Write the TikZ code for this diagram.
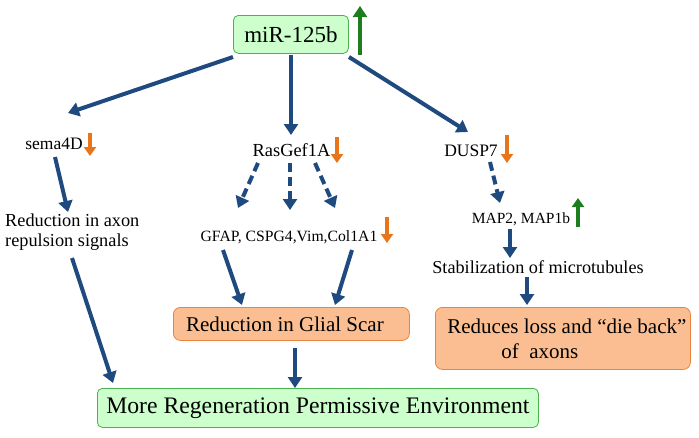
\documentclass[tikz,border=0pt]{standalone}
\usepackage{fontspec}
\setmainfont{Liberation Serif}
\usetikzlibrary{arrows.meta}
\definecolor{arrblue}{HTML}{1F4A80}
\definecolor{orarr}{HTML}{E8751A}
\definecolor{grarr}{HTML}{1E7E1E}
\definecolor{gfill}{HTML}{CCFFCC}
\definecolor{gdraw}{HTML}{4CAF50}
\definecolor{ofill}{HTML}{FBBE92}
\definecolor{odraw}{HTML}{E8843E}
\begin{document}
\begin{tikzpicture}[x=1pt,y=-1pt,
  flow/.style={draw=arrblue,line width=4pt,-{Triangle[length=11pt,width=14pt]}},
  dflow/.style={flow,dash pattern=on 9pt off 5pt},
  dnarr/.style={draw=orarr,line width=3.5pt,-{Triangle[length=9pt,width=12pt]}},
  uparr/.style={draw=grarr,line width=3.5pt,-{Triangle[length=9pt,width=12pt]}},
  gbox/.style={draw=gdraw,fill=gfill,rounded corners=5pt,line width=0.8pt,inner sep=0pt},
  obox/.style={draw=odraw,fill=ofill,rounded corners=7pt,line width=0.8pt,inner sep=0pt},
  lbl/.style={inner sep=0pt,font=\rmfamily\fontsize{17.5}{20}\selectfont}]
\useasboundingbox (0,0) rectangle (699,437);
% boxes
\node[gbox,minimum width=115pt,minimum height=38pt,anchor=north west,font=\rmfamily\fontsize{23}{27}\selectfont] (mir) at (233,15) {miR-125b};
\node[obox,minimum width=236pt,minimum height=33pt,anchor=north west,font=\rmfamily\fontsize{21}{25}\selectfont] (glial) at (173,307) {\hspace*{-13pt}Reduction in Glial Scar};
\node[obox,minimum width=255pt,minimum height=62pt,anchor=north west,font=\rmfamily\fontsize{21}{25}\selectfont,align=left] (loss) at (435,307) {\hspace*{8pt}Reduces loss and “die back”\\\hspace*{62pt}of \ axons};
\node[gbox,minimum width=441pt,minimum height=39pt,anchor=north west,font=\rmfamily\fontsize{23.7}{27}\selectfont] (env) at (97,388) {More Regeneration Permissive Environment};
% labels
\node[lbl] (sema) at (54,144) {sema4D};
\node[lbl,align=left,anchor=west,font=\rmfamily\fontsize{18.3}{20}\selectfont] (axon) at (5,232) {Reduction in axon\\repulsion signals};
\node[lbl,font=\rmfamily\fontsize{18.4}{21}\selectfont] (ras) at (291.5,150) {RasGef1A};
\node[lbl,font=\rmfamily\fontsize{15.7}{18}\selectfont] (gfap) at (289,237) {GFAP, CSPG4,Vim,Col1A1};
\node[lbl,font=\rmfamily\fontsize{17.5}{20}\selectfont] (dusp) at (471,151) {DUSP7};
\node[lbl,font=\rmfamily\fontsize{15.5}{18}\selectfont] (map) at (521,219) {MAP2, MAP1b};
\node[lbl,font=\rmfamily\fontsize{18.2}{21}\selectfont] (stab) at (538,267) {Stabilization of microtubules};
% coordinates
\coordinate (m1) at (233,57);
\coordinate (m2) at (291,55);
\coordinate (m3) at (349,57);
\coordinate (s1) at (68,113);
\coordinate (r1) at (291,135);
\coordinate (d1) at (468,132);
% main arrows
\draw[flow] (m1) -- (s1);
\draw[flow] (m2) -- (r1);
\draw[flow] (m3) -- (d1);
\coordinate (sa) at (55,157);
\coordinate (sb) at (68,212);
\draw[flow] (sa) -- (sb);
\coordinate (aa) at (72,258);
\coordinate (ab) at (113,383);
\draw[flow] (aa) -- (ab);
% dashed from RasGef1A
\coordinate (ra) at (258,163); \coordinate (rb) at (238,208);
\coordinate (rc) at (290,163); \coordinate (rd) at (290,210);
\coordinate (re) at (315,163); \coordinate (rf) at (335,208);
\draw[dflow] (ra) -- (rb);
\draw[dflow] (rc) -- (rd);
\draw[dflow] (re) -- (rf);
\coordinate (ga) at (223,250); \coordinate (gb) at (242,305);
\coordinate (gc) at (352,250); \coordinate (gd) at (335,305);
\draw[flow] (ga) -- (gb);
\draw[flow] (gc) -- (gd);
\coordinate (gla) at (295,348); \coordinate (glb) at (295,388);
\draw[flow] (gla) -- (glb);
% DUSP7 branch
\coordinate (da) at (490,162); \coordinate (db) at (500,203);
\draw[dflow] (da) -- (db);
\coordinate (ma) at (510,229); \coordinate (mb) at (510,258);
\draw[flow] (ma) -- (mb);
\coordinate (sta) at (527,277); \coordinate (stb) at (527,305);
\draw[flow] (sta) -- (stb);
% up / down indicators
\coordinate (u1a) at (360,55); \coordinate (u1b) at (360,6);
\draw[uparr,line width=4pt,-{Triangle[length=11pt,width=14pt]}] (u1a) -- (u1b);
\coordinate (o1a) at (90,133); \coordinate (o1b) at (90,156);
\draw[dnarr] (o1a) -- (o1b);
\coordinate (o2a) at (337,137); \coordinate (o2b) at (337,163);
\draw[dnarr] (o2a) -- (o2b);
\coordinate (o3a) at (387,217); \coordinate (o3b) at (387,243);
\draw[dnarr] (o3a) -- (o3b);
\coordinate (o4a) at (507,135); \coordinate (o4b) at (507,163);
\draw[dnarr] (o4a) -- (o4b);
\coordinate (u2a) at (578,227); \coordinate (u2b) at (578,198);
\draw[uparr] (u2a) -- (u2b);
\end{tikzpicture}
\end{document}
